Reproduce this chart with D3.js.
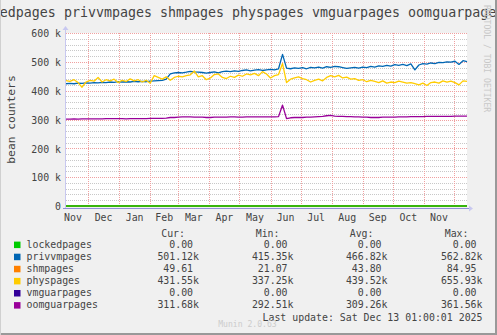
<!DOCTYPE html>
<html><head><meta charset="utf-8">
<script src="https://cdn.jsdelivr.net/npm/d3@7"></script>
<style>
body{margin:0;background:#f0f0f0}
svg{display:block}
text{font-family:"DejaVu Sans Mono",monospace;white-space:pre}
</style>
</head><body><svg id="c" width="497" height="335"></svg>
<script>
const titleText = "lockedpages privvmpages shmpages physpages vmguarpages oomguarpages";
const yLabel = "bean counters";
const startDate = "2024-11-09", endDate = "2025-12-14";
const yTicks = [0, 100000, 200000, 300000, 400000, 500000, 600000];
const yTickLabels = ["0", "100 k", "200 k", "300 k", "400 k", "500 k", "600 k"];
const seriesNames = ["lockedpages", "privvmpages", "shmpages", "physpages", "vmguarpages", "oomguarpages"];
const seriesColors = ["#00cc00", "#0066b3", "#ff8000", "#ffcc00", "#330099", "#990099"];

const lockedpages = [0, 0];
const privvmpages = [424,425,424,426,425,427,426,428,427,429,428,430,429,431,430,431,430,432,431,432,431,433,
  434,435,436,440,458,462,463,462,464,467,465,464,463,
  461,463,465,462,466,468,466,469,467,470,472,469,471,473,470,472,474,472,476,526,478,476,479,477,480,476,481,479,482,478,483,481,484,
  483,480,477,479,481,478,482,480,484,482,486,484,488,485,490,488,491,487,493,472,489,494,492,496,494,498,497,500,499,502,491,504,501];
const shmpages = [45, 50];
const physpages = [435,432,438,428,412,430,436,433,446,430,438,434,440,428,436,432,441,434,438,430,436,426,452,446,440,448,436,446,450,448,452,455,468,448,452,
  438,444,456,458,446,442,450,446,454,450,458,455,460,452,466,458,444,452,456,494,428,440,444,448,442,438,430,436,440,434,446,452,448,
  453,444,447,440,442,436,438,431,436,432,428,434,426,430,428,433,430,426,428,424,420,426,418,428,430,426,434,430,433,428,420,434,432];
const vmguarpages = [0, 0];
const oomguarpages = [301,301,302,301,302,302,302,302,302,302,303,
  303,303,303,303,302,303,303,303,303,303,304,
  304,304,304,305,307,307,308,309,309,309,308,308,308,
  307,307,308,308,308,308,309,309,308,308,309,309,309,309,309,309,309,309,310,
  350,303,
  306,307,307,307,308,308,309,310,311,313,314,312,
  311,311,310,310,309,309,308,308,307,307,307,308,308,308,308,309,309,309,310,310,310,310,311,311,311,311,311,311,311,312,312,312,312];

const curVals = ["0.00", "501.12k", "49.61", "431.55k", "0.00", "311.68k"];
const minVals = ["0.00", "415.35k", "21.07", "337.25k", "0.00", "292.51k"];
const avgVals = ["0.00", "466.82k", "43.80", "439.52k", "0.00", "309.26k"];
const maxVals = ["0.00", "562.82k", "84.95", "655.93k", "0.00", "361.56k"];
const lastUpdate = "Last update: Sat Dec 13 01:00:01 2025";
const watermark = "Munin 2.0.63";
const sideText = "RRDTOOL / TOBI OETIKER";

const svg = d3.select("#c");
const W = 497, H = 335;
const L = 66, R = 467, T = 33, B = 206;

svg.append("rect").attr("width", W).attr("height", H).attr("fill", "#f0f0f0");
svg.append("rect").attr("x", L).attr("y", T).attr("width", R - L).attr("height", B - T).attr("fill", "#ffffff");

const t0 = new Date(startDate + "T00:00:00Z"), t1 = new Date(endDate + "T00:00:00Z");
const x = d3.scaleUtc().domain([t0, t1]).range([L, R]);
const y = d3.scaleLinear().domain([0, 600000]).range([B, T]);

// minor horizontal grid
const minor = d3.range(0, 600001, 20000).filter(v => v % 100000 !== 0);
svg.append("g").selectAll("line").data(minor).join("line")
  .attr("x1", L).attr("x2", R).attr("y1", d => Math.round(y(d)) + 0.5).attr("y2", d => Math.round(y(d)) + 0.5)
  .attr("stroke", "#c8c8c8").attr("stroke-width", 1).attr("stroke-dasharray", "1,1");
// vertical month grid
const months = d3.utcMonth.range(d3.utcMonth.ceil(t0), t1);
svg.append("g").selectAll("line").data(months).join("line")
  .attr("x1", d => Math.round(x(d)) + 0.5).attr("x2", d => Math.round(x(d)) + 0.5).attr("y1", T).attr("y2", B)
  .attr("stroke", "#f0a0a0").attr("stroke-width", 1).attr("stroke-dasharray", "1,1");
// major horizontal grid
svg.append("g").selectAll("line").data(yTicks).join("line")
  .attr("x1", L).attr("x2", R).attr("y1", d => Math.round(y(d)) + 0.5).attr("y2", d => Math.round(y(d)) + 0.5)
  .attr("stroke", "#f0a0a0").attr("stroke-width", 1).attr("stroke-dasharray", "1,1");

// y tick labels
svg.append("g").selectAll("text").data(yTicks).join("text")
  .attr("x", 61).attr("y", d => y(d) + 4.3).attr("text-anchor", "end")
  .attr("font-size", "9.9px").attr("fill", "#444").text((d, i) => yTickLabels[i]);

// month labels (centred mid-month, only those inside the plot)
const labelMonths = d3.utcMonth.range(d3.utcMonth.floor(t0), t1)
  .filter(d => { const c = (x(d) + x(d3.utcMonth.offset(d, 1))) / 2; return c >= L && c <= R - 10; });
const fmt = d3.utcFormat("%b");
svg.append("g").selectAll("text").data(labelMonths).join("text")
  .attr("x", d => (x(d) + x(d3.utcMonth.offset(d, 1))) / 2).attr("y", 220.5).attr("text-anchor", "middle")
  .attr("font-size", "9.9px").attr("fill", "#444").text(d => fmt(d));

// series lines
const seriesData = [lockedpages, privvmpages, shmpages, physpages, vmguarpages, oomguarpages];
const scaleK = [1, 1000, 1, 1000, 1, 1000];
const line = d3.line().x(d => x(d[0])).y(d => y(d[1]));
const drawOrder = [4, 2, 0, 1, 3, 5];
drawOrder.forEach(si => {
  const vals = seriesData[si];
  const n = vals.length;
  const pts = vals.map((v, i) => [new Date(+t0 + (t1 - t0) * i / (n - 1)), v * scaleK[si]]);
  svg.append("path").attr("d", line(pts)).attr("fill", "none")
    .attr("stroke", seriesColors[si]).attr("stroke-width", si === 0 ? 1.6 : 1.3)
    .attr("stroke-linejoin", "round");
});

// axes
svg.append("line").attr("x1", L - 0.5).attr("x2", L - 0.5).attr("y1", T - 4).attr("y2", B + 3)
  .attr("stroke", "#c8c8f0").attr("stroke-width", 1);
svg.append("path").attr("d", `M${L - 3.5},${T - 3}L${L - 0.5},${T - 7}L${L + 2.5},${T - 3}Z`).attr("fill", "#c8c8f0");
svg.append("line").attr("x1", L - 3).attr("x2", R + 3).attr("y1", B + 2.5).attr("y2", B + 2.5)
  .attr("stroke", "#9090d8").attr("stroke-width", 1);
svg.append("path").attr("d", `M${R + 2},${B - 0.5}L${R + 6},${B + 2.5}L${R + 2},${B + 5.5}Z`).attr("fill", "#c8c8f0");

// title (wider than the image, clipped like the reference)
svg.append("text").attr("x", 236).attr("y", 17).attr("text-anchor", "middle")
  .attr("font-size", "13.3px").attr("fill", "#444").text(titleText);
// y label
svg.append("text").attr("transform", `translate(15,${(T + B) / 2}) rotate(-90)`).attr("text-anchor", "middle")
  .attr("font-size", "11.3px").attr("fill", "#444").text(yLabel);
// side text
svg.append("text").attr("transform", `translate(483.5,5) rotate(90)`).attr("text-anchor", "start")
  .attr("font-size", "8.1px").attr("fill", "#c8c8c8").text(sideText);

// legend headers
const colEnds = [199, 293.5, 387.5, 482.5];
const headers = ["Cur:", "Min:", "Avg:", "Max:"];
headers.forEach((h, i) => {
  svg.append("text").attr("x", colEnds[i] - 14).attr("y", 236.5).attr("text-anchor", "end")
    .attr("font-size", "9.9px").attr("fill", "#444").text(h);
});
const cols = [curVals, minVals, avgVals, maxVals];
seriesNames.forEach((name, r) => {
  const by = 247.6 + r * 12.1;
  svg.append("rect").attr("x", 14).attr("y", by - 6).attr("width", 6.5).attr("height", 6.5).attr("fill", seriesColors[r]);
  svg.append("text").attr("x", 26.5).attr("y", by).attr("font-size", "9.9px").attr("fill", "#444").text(name);
  cols.forEach((c, ci) => {
    const s = c[r].endsWith("k") ? c[r] : c[r] + "\u00a0";
    svg.append("text").attr("x", colEnds[ci]).attr("y", by).attr("text-anchor", "end")
      .attr("font-size", "9.9px").attr("fill", "#444").text(s);
  });
});
svg.append("text").attr("x", 482.5).attr("y", 320.5).attr("text-anchor", "end")
  .attr("font-size", "9.9px").attr("fill", "#444").text(lastUpdate);
svg.append("text").attr("x", 247.5).attr("y", 326.5).attr("text-anchor", "middle")
  .attr("font-size", "8.1px").attr("fill", "#cccccc").text(watermark);

// frame
svg.append("line").attr("x1", 0).attr("x2", W).attr("y1", H - 1).attr("y2", H - 1).attr("stroke", "#999").attr("stroke-width", 2);
svg.append("line").attr("x1", W - 1).attr("x2", W - 1).attr("y1", 0).attr("y2", H).attr("stroke", "#999").attr("stroke-width", 2);
svg.append("line").attr("x1", 0.5).attr("x2", 0.5).attr("y1", 0).attr("y2", H).attr("stroke", "#d0d0d0").attr("stroke-width", 1);
</script></body></html>
